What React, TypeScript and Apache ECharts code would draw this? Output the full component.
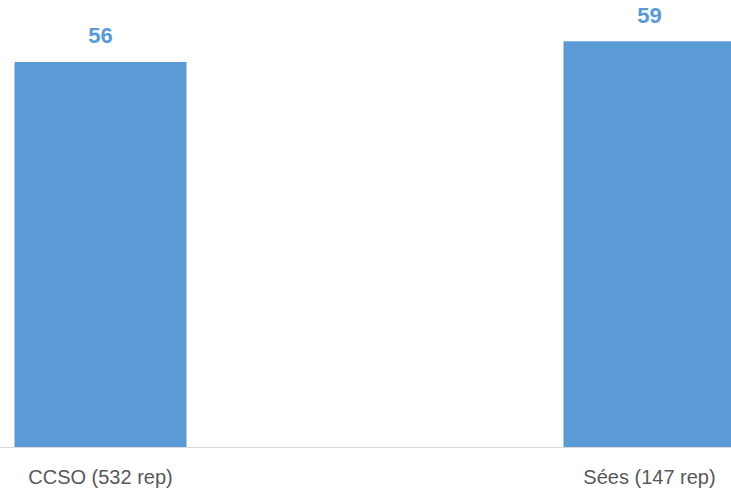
import React, { useEffect, useRef } from "react";
import * as echarts from "echarts";

const categories = ["CCSO (532 rep)", "Sées (147 rep)"];
const values = [56, 59];

export default function App() {
  const ref = useRef<HTMLDivElement>(null);
  useEffect(() => {
    document.body.style.margin = "0";
    document.body.style.overflow = "hidden";
    const chart = echarts.init(ref.current!, null, { renderer: "svg" });
    chart.setOption({
      animation: false,
      grid: { left: 0, right: 0, top: 0, bottom: 46, containLabel: false },
      xAxis: {
        type: "category",
        data: categories,
        axisLine: { show: true, lineStyle: { color: "#d9d9d9", width: 1 } },
        axisTick: { show: false },
        axisLabel: {
          color: "#595959",
          fontSize: 20,
          fontFamily: "Liberation Sans",
          margin: 20,
        },
      },
      yAxis: {
        type: "value",
        min: 0,
        max: 65,
        show: false,
        splitLine: { show: false },
      },
      series: [
        {
          type: "bar",
          data: values,
          barWidth: 172,
          itemStyle: { color: "#5b9bd5" },
          label: {
            show: true,
            position: "top",
            distance: 15,
            color: "#5b9bd5",
            fontSize: 22,
            fontWeight: "bold",
            fontFamily: "Liberation Sans",
          },
        },
      ],
    });
    return () => chart.dispose();
  }, []);
  return (
    <div style={{ width: 731, height: 493, overflow: "hidden", position: "relative" }}>
      <div
        ref={ref}
        style={{ position: "absolute", left: -174.5, top: 0, width: 1098, height: 493 }}
      />
    </div>
  );
}
